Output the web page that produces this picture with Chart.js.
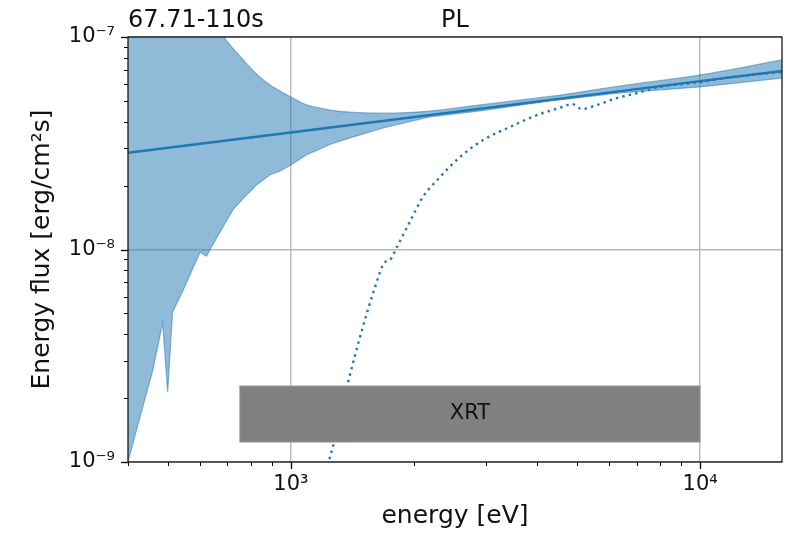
<!DOCTYPE html>
<html>
<head>
<meta charset="utf-8">
<script src="https://cdn.jsdelivr.net/npm/chart.js@4.4.0/dist/chart.umd.min.js"></script>
<style>
  html, body { margin: 0; padding: 0; background: #fff; }
</style>
</head>
<body>
<canvas id="myChart" width="787" height="534"></canvas>
<script>
// Espectro PL: modelo, banda de confianza y modelo absorbido
var plEnergy = [400, 1000, 10000, 15849];
var plFlux = [2.85e-8, 3.55e-8, 6.2e-8, 6.92e-8];

var bandEnergy = [400, 428, 460, 486, 500, 514, 546, 600, 622, 640, 683, 722, 765, 824, 889, 931, 1000, 1092, 1164, 1245, 1394, 1698, 2187, 2897, 4296, 6368, 10000, 15849];
var bandUpper = [3.2e-7, 2.9e-7, 2.55e-7, 2.3e-7, 2.2e-7, 2.1e-7, 1.85e-7, 1.45e-7, 1.32e-7, 1.21e-7, 1.01e-7, 8.83e-8, 7.8e-8, 6.7e-8, 5.94e-8, 5.63e-8, 5.22e-8, 4.79e-8, 4.66e-8, 4.53e-8, 4.43e-8, 4.38e-8, 4.48e-8, 4.79e-8, 5.25e-8, 5.88e-8, 6.63e-8, 7.8e-8];
var bandLower = [1.0e-9, 1.63e-9, 2.71e-9, 4.51e-9, 2.13e-9, 5.08e-9, 6.44e-9, 9.7e-9, 9.3e-9, 1.03e-8, 1.28e-8, 1.54e-8, 1.74e-8, 2.01e-8, 2.25e-8, 2.32e-8, 2.50e-8, 2.79e-8, 2.94e-8, 3.12e-8, 3.35e-8, 3.75e-8, 4.21e-8, 4.49e-8, 5.0e-8, 5.45e-8, 5.82e-8, 6.41e-8];

var absEnergy = [1218, 1296, 1378, 1603, 1698, 1746, 1817, 1953, 2103, 2313, 2588, 2946, 3428, 3991, 4620, 4863, 5140, 5598, 6266, 7015, 7981, 10000, 12040, 15849];
var absFlux = [8.98e-10, 1.40e-9, 2.35e-9, 6.59e-9, 8.73e-9, 8.93e-9, 1.03e-8, 1.35e-8, 1.77e-8, 2.19e-8, 2.72e-8, 3.27e-8, 3.77e-8, 4.29e-8, 4.69e-8, 4.84e-8, 4.58e-8, 4.79e-8, 5.16e-8, 5.45e-8, 5.82e-8, 6.14e-8, 6.49e-8, 6.85e-8];

// Banda del instrumento
var xrtEnergy = [750, 10000];
var xrtFlux = [1.24e-9, 2.28e-9];
var xrtLabel = 'XRT';

var xTickValues = [1000, 10000];
var xTickLabels = ['10³', '10⁴'];
var yTickValues = [1e-9, 1e-8, 1e-7];
var yTickLabels = ['10⁻⁹', '10⁻⁸', '10⁻⁷'];

var xMin = 400, xMax = Math.pow(10, 4.2);
var yMin = 1e-9, yMax = 1e-7;

var timeLabel = '67.71-110s';
var modelLabel = 'PL';

var FONT = "'DejaVu Sans', sans-serif";
var C0 = '#1f77b4';

function pts(xs, ys) {
  return xs.map(function (x, i) { return { x: x, y: ys[i] }; });
}

function isMajor(v) {
  var l = Math.log10(v);
  return Math.abs(l - Math.round(l)) < 1e-6;
}

// ticks menores + mayores en escala log
function logTicks(min, max) {
  var out = [];
  for (var d = Math.floor(Math.log10(min)); d <= Math.ceil(Math.log10(max)); d++) {
    for (var k = 1; k <= 9; k++) {
      var v = k * Math.pow(10, d);
      if (v >= min * 0.9999 && v <= max * 1.0001) out.push(v);
    }
  }
  return out;
}

function labelFor(values, labels, v) {
  for (var i = 0; i < values.length; i++) {
    if (Math.abs(Math.log10(values[i]) - Math.log10(v)) < 1e-6) return labels[i];
  }
  return '';
}

var decoPlugin = {
  id: 'deco',
  afterDatasetsDraw: function (chart) {
    var ctx = chart.ctx, xs = chart.scales.x, ys = chart.scales.y;
    var x0 = xs.getPixelForValue(xrtEnergy[0]), x1 = xs.getPixelForValue(xrtEnergy[1]);
    var y0 = ys.getPixelForValue(xrtFlux[1]), y1 = ys.getPixelForValue(xrtFlux[0]);
    ctx.save();
    ctx.fillStyle = '#808080';
    ctx.fillRect(x0, y0, x1 - x0, y1 - y0);
    ctx.strokeStyle = 'rgba(160,160,160,0.8)';
    ctx.lineWidth = 1;
    ctx.strokeRect(x0, y0, x1 - x0, y1 - y0);
    ctx.fillStyle = '#111';
    ctx.font = '21px ' + FONT;
    ctx.textAlign = 'center';
    ctx.textBaseline = 'middle';
    ctx.fillText(xrtLabel, (x0 + x1) / 2, (y0 + y1) / 2);
    ctx.restore();
  },
  afterDraw: function (chart) {
    var ctx = chart.ctx, a = chart.chartArea;
    var xs = chart.scales.x, ys = chart.scales.y;
    ctx.save();
    // marcas de los ejes
    ctx.strokeStyle = '#000';
    xs.ticks.forEach(function (t) {
      var p = Math.round(xs.getPixelForValue(t.value)) + 0.5;
      var big = isMajor(t.value);
      ctx.lineWidth = big ? 1.3 : 1;
      ctx.beginPath();
      ctx.moveTo(p, a.bottom);
      ctx.lineTo(p, a.bottom + (big ? 7 : 4));
      ctx.stroke();
    });
    ys.ticks.forEach(function (t) {
      var p = Math.round(ys.getPixelForValue(t.value)) + 0.5;
      var big = isMajor(t.value);
      ctx.lineWidth = big ? 1.3 : 1;
      ctx.beginPath();
      ctx.moveTo(a.left, p);
      ctx.lineTo(a.left - (big ? 7 : 4), p);
      ctx.stroke();
    });
    // marco
    ctx.lineWidth = 1.3;
    ctx.strokeStyle = '#1a1a1a';
    ctx.strokeRect(a.left, a.top, a.right - a.left, a.bottom - a.top);
    // títulos
    ctx.fillStyle = '#111';
    ctx.font = '24px ' + FONT;
    ctx.textBaseline = 'alphabetic';
    ctx.textAlign = 'left';
    ctx.fillText(timeLabel, a.left, 27);
    ctx.textAlign = 'center';
    ctx.fillText(modelLabel, (a.left + a.right) / 2, 27);
    ctx.restore();
  }
};

var ctx = document.getElementById('myChart').getContext('2d');
var myChart = new Chart(ctx, {
  type: 'line',
  data: {
    datasets: [
      {
        label: 'PL',
        data: pts(plEnergy, plFlux),
        borderColor: C0,
        borderWidth: 2.5,
        pointRadius: 0,
        fill: false,
        order: 0
      },
      {
        label: 'absorbed',
        data: pts(absEnergy, absFlux),
        borderColor: C0,
        borderWidth: 2.4,
        borderDash: [2.4, 4.2],
        borderCapStyle: 'butt',
        cubicInterpolationMode: 'monotone',
        pointRadius: 0,
        fill: false,
        order: 1
      },
      {
        label: 'upper',
        data: pts(bandEnergy, bandUpper),
        borderColor: 'rgba(31,119,180,0.5)',
        borderWidth: 1.2,
        backgroundColor: 'rgba(31,119,180,0.5)',
        cubicInterpolationMode: 'monotone',
        pointRadius: 0,
        fill: '+1',
        order: 2
      },
      {
        label: 'lower',
        data: pts(bandEnergy, bandLower),
        borderColor: 'rgba(31,119,180,0.5)',
        borderWidth: 1.2,
        pointRadius: 0,
        fill: false,
        order: 3
      }
    ]
  },
  options: {
    responsive: false,
    animation: false,
    events: [],
    layout: { padding: { top: 37, right: 5, left: 0, bottom: 0 } },
    elements: { line: { tension: 0 } },
    plugins: {
      legend: { display: false },
      tooltip: { enabled: false },
      title: { display: false }
    },
    scales: {
      x: {
        type: 'logarithmic',
        position: 'bottom',
        min: xMin,
        max: xMax,
        afterBuildTicks: function (scale) {
          scale.ticks = logTicks(xMin, xMax).map(function (v) { return { value: v }; });
        },
        afterFit: function (scale) { scale.height = 72; },
        border: { display: false },
        grid: {
          drawTicks: false,
          lineWidth: 1.4,
          color: function (c) { return c.tick && isMajor(c.tick.value) ? '#b8b8b8' : 'rgba(0,0,0,0)'; }
        },
        ticks: {
          autoSkip: false,
          maxRotation: 0,
          padding: 10,
          color: '#111',
          font: { family: FONT, size: 21 },
          callback: function (v) { return labelFor(xTickValues, xTickLabels, v); }
        },
        title: {
          display: true,
          text: 'energy [eV]',
          color: '#111',
          font: { family: FONT, size: 25 },
          padding: { top: 0, bottom: 3 }
        }
      },
      y: {
        type: 'logarithmic',
        position: 'left',
        min: yMin,
        max: yMax,
        afterBuildTicks: function (scale) {
          scale.ticks = logTicks(yMin, yMax).map(function (v) { return { value: v }; });
        },
        afterFit: function (scale) { scale.width = 128; },
        border: { display: false },
        grid: {
          drawTicks: false,
          lineWidth: 1.4,
          color: function (c) { return c.tick && isMajor(c.tick.value) ? '#b8b8b8' : 'rgba(0,0,0,0)'; }
        },
        ticks: {
          autoSkip: false,
          padding: 13,
          color: '#111',
          font: { family: FONT, size: 21 },
          callback: function (v) { return labelFor(yTickValues, yTickLabels, v); }
        },
        title: {
          display: true,
          text: 'Energy flux [erg/cm²s]',
          color: '#111',
          font: { family: FONT, size: 25 },
          padding: { top: 27, bottom: 0 }
        }
      }
    }
  },
  plugins: [decoPlugin]
});
</script>
</body>
</html>
